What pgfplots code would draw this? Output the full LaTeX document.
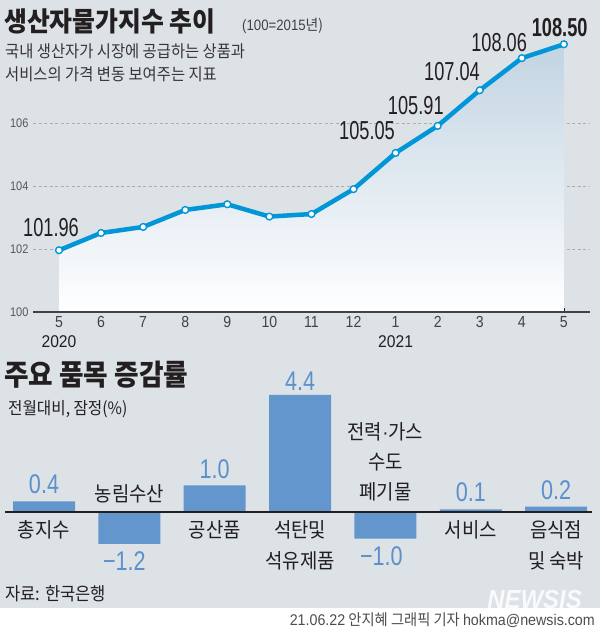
\documentclass[border=0pt]{standalone}
\usepackage{fontspec}
\usepackage{pgfplots}
\pgfplotsset{compat=1.18}
\setmainfont{Noto Sans CJK KR}[FakeStretch=0.92]
\newfontfamily\numfont{Liberation Sans}[FakeStretch=0.70]
\newfontfamily\valfont{Liberation Sans}[FakeStretch=0.80]
\newfontfamily\tickfont{Liberation Sans}[FakeStretch=0.88]
\newfontfamily\plainfont{Liberation Sans}[FakeStretch=0.92]
\definecolor{bg}{HTML}{DCE2E6}
\definecolor{linec}{HTML}{0096D8}
\definecolor{areac}{HTML}{C2D4E2}
\definecolor{barc}{HTML}{6496CE}
\definecolor{valc}{HTML}{5B90CA}
\definecolor{txt}{HTML}{231F20}
\definecolor{gridc}{HTML}{A9AEB2}

\pgfplotstableread{
x y
0 101.96
1 102.51
2 102.70
3 103.24
4 103.42
5 103.03
6 103.11
7 103.90
8 105.05
9 105.91
10 107.04
11 108.06
12 108.50
}\ppi

\pgfplotstableread{
x y
0 0.4
1 -1.2
2 1.0
3 4.4
4 -1.0
5 0.1
6 0.2
}\items

\begin{document}
\begin{tikzpicture}
\useasboundingbox (0pt,0pt) rectangle (600pt,633pt);
\fill[bg] (0pt,0pt) rectangle (600pt,633pt);
\fill[white] (0pt,0pt) rectangle (600pt,25pt);

% titles
\node[anchor=base west, inner sep=0pt, text=txt, font=\fontsize{27}{27}\selectfont\bfseries] at (4pt,601pt) {생산자물가지수 추이};
\node[anchor=base west, inner sep=0pt, text=txt!85, font=\fontsize{15}{15}\selectfont] at (242pt,602pt) {{\tickfont (100=2015}년)};
\node[anchor=base west, inner sep=0pt, text=txt!90, font=\fontsize{16.7}{16.7}\selectfont] at (5pt,575pt) {국내 생산자가 시장에 공급하는 상품과};
\node[anchor=base west, inner sep=0pt, text=txt!90, font=\fontsize{16.7}{16.7}\selectfont] at (5pt,552pt) {서비스의 가격 변동 보여주는 지표};

\node[anchor=base west, inner sep=0pt, text=txt, font=\fontsize{29}{29}\selectfont\bfseries] at (4pt,247pt) {주요 품목 증감률};
\node[anchor=base west, inner sep=0pt, text=txt, font=\fontsize{17}{17}\selectfont] at (8pt,218pt) {전월대비, 잠정(\%)};
\node[anchor=base west, inner sep=0pt, text=txt, font=\fontsize{18}{18}\selectfont] at (5pt,32pt) {자료: 한국은행};

% watermark
\node[anchor=base east, inner sep=0pt, text=white, opacity=0.85, font=\fontsize{26}{26}\selectfont\plainfont\bfseries\itshape] at (582pt,24pt) {NEWSIS};
% footer
\node[anchor=base east, inner sep=0pt, text=txt!80, font=\fontsize{15.5}{15.5}\selectfont] at (595pt,7pt) {{\plainfont 21.06.22} 안지혜 그래픽 기자 {\plainfont hokma@newsis.com}};

% ---------- top line chart ----------
\begin{axis}[
  at={(33pt,321pt)}, anchor=south west,
  scale only axis, width=557pt, height=299.25pt,
  xmin=-0.618, xmax=12.62, ymin=100, ymax=109.5,
  clip=false,
  axis line style={draw=none},
  xtick={0,...,12},
  xticklabels={5,6,7,8,9,10,11,12,1,2,3,4,5},
  xtick pos=lower, ytick pos=left,
  tick align=inside, major tick length=4pt,
  xtick style={txt, line width=0.8pt},
  ytick style={draw=none},
  ytick={100,102,104,106},
  ymajorgrids,
  major grid style={gridc, dash pattern=on 3pt off 2.5pt, line width=0.7pt},
  /pgf/number format/assume math mode=true,
  xticklabel style={font=\fontsize{16}{16}\tickfont, text=txt!85, yshift=-1pt},
  yticklabel style={font=\fontsize{12.5}{12.5}\tickfont, text=txt!75, xshift=-1pt},
]
\addplot[draw=none, top color=areac, bottom color=white, forget plot]
  coordinates {(0,100) (0,101.96) (1,102.51) (2,102.70) (3,103.24) (4,103.42) (5,103.03) (6,103.11) (7,103.90) (8,105.05) (9,105.91) (10,107.04) (11,108.06) (12,108.50) (12,100)} -- cycle;
\draw[txt!85, line width=1.3pt] (rel axis cs:0,0) -- (rel axis cs:1,0);
\addplot[linec, line width=4.5pt, line join=round, line cap=round,
  mark=*, mark size=3.4pt, mark options={fill=white, draw=linec, line width=1.4pt}]
  table[x=x, y=y] {\ppi};
\node[font=\fontsize{26}{26}\numfont, text=txt] at (axis cs:-0.19,102.67) {101.96};
\node[font=\fontsize{26}{26}\numfont, text=txt] at (axis cs:7.32,105.75) {105.05};
\node[font=\fontsize{26}{26}\numfont, text=txt] at (axis cs:8.48,106.54) {105.91};
\node[font=\fontsize{26}{26}\numfont, text=txt] at (axis cs:9.34,107.62) {107.04};
\node[font=\fontsize{26}{26}\numfont, text=txt] at (axis cs:10.46,108.57) {108.06};
\node[font=\fontsize{26}{26}\numfont\bfseries, text=txt] at (axis cs:11.9,109.02) {108.50};
\node[font=\fontsize{17}{17}\plainfont, text=txt] at (axis cs:0,99.05) {2020};
\node[font=\fontsize{17}{17}\plainfont, text=txt] at (axis cs:8,99.05) {2021};
\end{axis}

% ---------- bottom bar chart ----------
\begin{axis}[
  at={(5pt,54.5pt)}, anchor=south west,
  scale only axis, width=587pt, height=188.9pt,
  xmin=-0.457, xmax=6.42, ymin=-2.5, ymax=4.6,
  clip=false,
  axis line style={draw=none},
  xtick=\empty, ytick=\empty,
]
\addplot[ybar, bar width=62pt, fill=barc, draw=none] table[x=x, y=y] {\items};
\draw[txt, line width=1.3pt] (axis cs:-0.457,0) -- (axis cs:6.42,0);
% values
\node[anchor=south, inner sep=0pt, text=valc, font=\fontsize{27}{27}\valfont] at ([yshift=7pt]axis cs:0,0.4) {0.4};
\node[anchor=north, inner sep=0pt, text=valc, font=\fontsize{27}{27}\valfont] at ([yshift=-8pt,xshift=-5pt]axis cs:1,-1.2) {−1.2};
\node[anchor=south, inner sep=0pt, text=valc, font=\fontsize{27}{27}\valfont] at ([yshift=6pt]axis cs:2,1.0) {1.0};
\node[anchor=south, inner sep=0pt, text=valc, font=\fontsize{27}{27}\valfont] at ([yshift=4pt]axis cs:3,4.4) {4.4};
\node[anchor=north, inner sep=0pt, text=valc, font=\fontsize{27}{27}\valfont] at ([yshift=-8pt,xshift=-4pt]axis cs:4,-1.0) {−1.0};
\node[anchor=south, inner sep=0pt, text=valc, font=\fontsize{27}{27}\valfont] at ([yshift=7pt]axis cs:5,0.1) {0.1};
\node[anchor=south, inner sep=0pt, text=valc, font=\fontsize{27}{27}\valfont] at ([yshift=7pt]axis cs:6,0.2) {0.2};
% categories
\node[anchor=base, inner sep=0pt, text=txt, font=\fontsize{20.5}{20.5}\selectfont] at ([yshift=-26pt]axis cs:0,0) {총지수};
\node[anchor=base, inner sep=0pt, text=txt, font=\fontsize{20.5}{20.5}\selectfont] at ([yshift=10pt]axis cs:1,0) {농림수산};
\node[anchor=base, inner sep=0pt, text=txt, font=\fontsize{20.5}{20.5}\selectfont] at ([yshift=-26pt]axis cs:2,0) {공산품};
\node[anchor=base, inner sep=0pt, text=txt, font=\fontsize{20.5}{20.5}\selectfont] at ([yshift=-26pt]axis cs:3,0) {석탄및};
\node[anchor=base, inner sep=0pt, text=txt, font=\fontsize{20.5}{20.5}\selectfont] at ([yshift=-57pt]axis cs:3,0) {석유제품};
\node[anchor=base, inner sep=0pt, text=txt, font=\fontsize{20.5}{20.5}\selectfont] at ([yshift=72pt]axis cs:4,0) {전력{\plainfont\fontsize{20.5}{20.5}\selectfont ·}가스};
\node[anchor=base, inner sep=0pt, text=txt, font=\fontsize{20.5}{20.5}\selectfont] at ([yshift=42pt]axis cs:4,0) {수도};
\node[anchor=base, inner sep=0pt, text=txt, font=\fontsize{20.5}{20.5}\selectfont] at ([yshift=12pt]axis cs:4,0) {폐기물};
\node[anchor=base, inner sep=0pt, text=txt, font=\fontsize{20.5}{20.5}\selectfont] at ([yshift=-26pt]axis cs:5,0) {서비스};
\node[anchor=base, inner sep=0pt, text=txt, font=\fontsize{20.5}{20.5}\selectfont] at ([yshift=-26pt]axis cs:6,0) {음식점};
\node[anchor=base, inner sep=0pt, text=txt, font=\fontsize{20.5}{20.5}\selectfont] at ([yshift=-57pt]axis cs:6,0) {및 숙박};
\end{axis}
\end{tikzpicture}
\end{document}
